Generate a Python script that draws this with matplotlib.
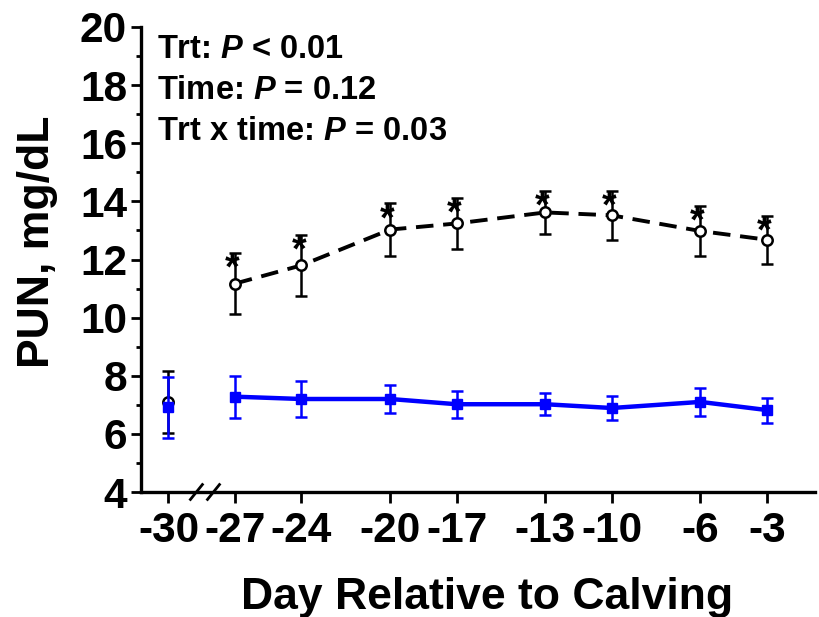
import matplotlib
matplotlib.use("Agg")
import matplotlib.pyplot as plt
import matplotlib.transforms as mtransforms
import numpy as np

plt.rcParams['font.family'] = ['Liberation Sans', 'DejaVu Sans']
plt.rcParams['font.weight'] = 'bold'
plt.rcParams['axes.unicode_minus'] = False
plt.rcParams['mathtext.fontset'] = 'custom'
plt.rcParams['mathtext.it'] = 'Liberation Sans:italic:bold'
plt.rcParams['mathtext.rm'] = 'Liberation Sans:bold'

# PUN by day relative to calving (mean and SEM)
days = [-30, -27, -24, -20, -17, -13, -10, -6, -3]
day_labels = ['-30', '-27', '-24', '-20', '-17', '-13', '-10', '-6', '-3']

trt_mean = [7.1, 11.17, 11.8, 13.03, 13.24, 13.62, 13.52, 12.98, 12.68]
trt_sem = [1.07, 1.05, 1.05, 0.9, 0.88, 0.75, 0.85, 0.85, 0.83]

ctl_mean = [6.92, 7.28, 7.2, 7.2, 7.02, 7.02, 6.89, 7.1, 6.82]
ctl_sem = [1.05, 0.72, 0.63, 0.48, 0.46, 0.37, 0.41, 0.48, 0.43]

sig = ['', '*', '*', '*', '*', '*', '*', '*', '*']

stats_lines = [r'Trt: $P$ < 0.01', r'Time: $P$ = 0.12', r'Trt x time: $P$ = 0.03']

days = np.array(days)

fig = plt.figure(figsize=(8.2, 6.17), dpi=100)
ax = fig.add_axes([141 / 820, 125 / 617, 674 / 820, 465 / 617])

bar_kw = dict(elinewidth=1.8, capsize=4.5, capthick=1.8)

# treated group: open circles, dashed; baseline day drawn unconnected
ax.errorbar(days[:1], trt_mean[:1], yerr=trt_sem[:1], fmt='o', color='black',
            mfc='white', mec='black', ms=7.5, mew=1.8, zorder=3, **bar_kw)
ax.errorbar(days[1:], trt_mean[1:], yerr=trt_sem[1:], fmt='o', color='black',
            mfc='white', mec='black', ms=7.5, mew=1.8, zorder=3, **bar_kw)
ax.plot(days[1:], trt_mean[1:], color='black', lw=2.8, dashes=(4.5, 2.5), zorder=2)

# control group: blue squares, solid
ax.errorbar(days[:1], ctl_mean[:1], yerr=ctl_sem[:1], fmt='s', color='#0000ff',
            ms=6.5, zorder=4, **bar_kw)
ax.errorbar(days[1:], ctl_mean[1:], yerr=ctl_sem[1:], fmt='s-', color='#0000ff',
            ms=6.5, lw=3.2, zorder=4, **bar_kw)

# significance stars just below the upper SEM cap
for d, m, e, s in zip(days, trt_mean, trt_sem, sig):
    if s:
        ax.annotate(s, (d, m + e), xytext=(-2, -12), textcoords='offset points',
                    ha='center', va='center', fontsize=27, fontweight='bold',
                    zorder=5)

for i, line in enumerate(stats_lines):
    ax.text(0.024, 0.985 - i * 0.088, line, transform=ax.transAxes,
            ha='left', va='top', fontsize=23.5, fontweight='bold')

ax.set_xlim(-31.24, -0.83)
ax.set_ylim(4, 20)
ax.set_xticks(days)
ax.set_xticklabels(day_labels)
ax.set_yticks(np.arange(4, 21, 2))
ax.set_yticks(np.arange(5, 20, 2), minor=True)

for side in ['top', 'right']:
    ax.spines[side].set_visible(False)
for side in ['left', 'bottom']:
    ax.spines[side].set_linewidth(2.4)

ax.tick_params(axis='both', which='major', labelsize=30.5, width=2, direction='out')
ax.tick_params(axis='y', which='major', length=7, pad=3)
ax.tick_params(axis='y', which='minor', length=3.5, width=2)
ax.tick_params(axis='x', which='major', length=8, pad=6)

# axis break marks between -30 and -27
trans = mtransforms.blended_transform_factory(ax.transData, ax.transAxes)
for bx in [-28.74, -27.97]:
    ax.plot([bx - 0.27, bx + 0.27], [-0.016, 0.016], color='black', lw=2,
            transform=trans, clip_on=False, zorder=5)

ax.set_ylabel('PUN, mg/dL', fontsize=32, fontweight='bold', va='center')
ax.yaxis.set_label_coords(-0.153, 0.538)
ax.set_xlabel('Day Relative to Calving', fontsize=32, fontweight='bold', va='top')
ax.xaxis.set_label_coords(0.513, -0.183)

fig.savefig('out.png', dpi=100)
